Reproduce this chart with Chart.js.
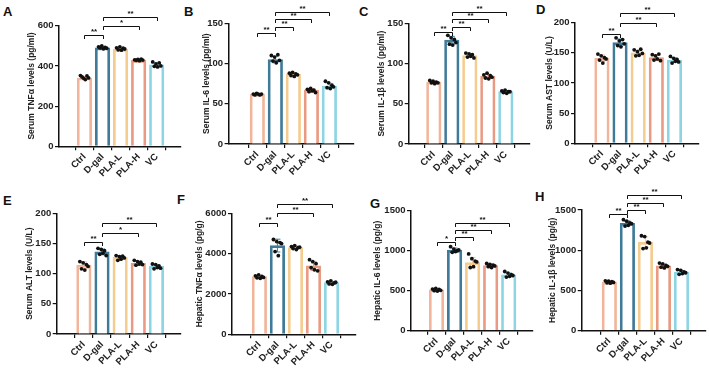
<!DOCTYPE html>
<html>
<head>
<meta charset="utf-8">
<script src="https://cdn.jsdelivr.net/npm/chart.js@4"></script>
<style>
  body { margin: 0; background: #fff; width: 709px; height: 369px; position: relative; overflow: hidden; font-family: "Liberation Sans", Arial, sans-serif; }
  canvas { position: absolute; }
  .tag { position: absolute; font-weight: bold; font-size: 13px; color: #111; }
</style>
</head>
<body>
<div class="tag" style="left:3px;top:4px">A</div>
<div class="tag" style="left:184px;top:4px">B</div>
<div class="tag" style="left:359px;top:4px">C</div>
<div class="tag" style="left:536px;top:2px">D</div>
<div class="tag" style="left:3px;top:193px">E</div>
<div class="tag" style="left:177px;top:192px">F</div>
<div class="tag" style="left:370px;top:196px">G</div>
<div class="tag" style="left:535px;top:189px">H</div>

<script>
const groups = ["Ctrl", "D-gal", "PLA-L", "PLA-H", "VC"];
const colors = ["#F2B59B", "#3F7A99", "#F5CC8F", "#EA9A82", "#8DD5E3"];

// A - serum TNFa (pg/ml)
const meanA = [340, 490, 482, 428, 405];
const dotsA = [[352, 345, 338, 332, 350, 340], [495, 490, 500, 485, 492, 488], [490, 480, 495, 478, 488, 484], [430, 428, 432, 426, 434, 429], [420, 398, 410, 395, 415, 400]];
const sigA = [[0, 1, 553, "**"], [1, 3, 600, "*"], [1, 4, 645, "**"]];
const yTicksA = [0, 200, 400, 600];

// B - serum IL-6 (pg/ml)
const meanB = [62, 105, 87, 67, 72];
const dotsB = [[62, 61, 63, 62, 61, 62], [110, 103, 108, 101, 111, 104], [88, 85, 89, 84, 87, 86], [68, 65, 69, 66, 67, 64], [78, 70, 76, 69, 73, 71]];
const sigB = [[0, 1, 137.6, "**"], [1, 2, 146, "**"], [1, 3, 155, "**"], [1, 4, 164.5, "**"]];
const yTicksB = [0, 50, 100, 150];

// C - serum IL-1b (pg/ml)
const meanC = [77, 129, 110, 84, 65];
const dotsC = [[79, 76, 78, 75, 77, 76], [135, 124, 132, 123, 130, 126], [113, 108, 112, 109, 111, 107], [86, 82, 88, 81, 85, 83], [66, 64, 67, 63, 65, 65]];
const sigC = [[0, 1, 139.6, "**"], [1, 2, 146, "**"], [1, 3, 155, "**"], [1, 4, 164.5, "**"]];
const yTicksC = [0, 50, 100, 150];

// D - serum AST (U/L)
const meanD = [141, 167, 150, 142, 138];
const dotsD = [[148, 138, 145, 133, 142, 140], [175, 162, 170, 160, 172, 165], [155, 145, 152, 146, 156, 149], [147, 138, 145, 140, 148, 137], [144, 133, 141, 136, 139, 135]];
const sigD = [[0, 1, 182, "**"], [1, 3, 199, "**"], [1, 4, 215.5, "**"]];
const yTicksD = [0, 50, 100, 150, 200];

// E - serum ALT (U/L)
const meanE = [114, 136, 127, 117, 112];
const dotsE = [[120, 108, 118, 106, 115, 112], [142, 132, 140, 134, 138, 130], [130, 122, 128, 124, 129, 126], [122, 114, 120, 116, 119, 115], [116, 108, 115, 110, 113, 109]];
const sigE = [[0, 1, 153, "**"], [1, 3, 168, "*"], [1, 4, 184.5, "**"]];
const yTicksE = [0, 50, 100, 150, 200];

// F - hepatic TNFa (pg/g)
const meanF = [2860, 4400, 4300, 3390, 2560];
const dotsF = [[2900, 2800, 2950, 2780, 2870, 2820], [4700, 4100, 4600, 3900, 4550, 4500], [4350, 4250, 4400, 4200, 4300, 4320], [3700, 3300, 3600, 3200, 3500, 3150], [2600, 2500, 2650, 2480, 2550, 2580]];
const sigF = [[0, 1, 5504, "**"], [1, 3, 6000, "**"], [1, 4, 6463, "**"]];
const yTicksF = [0, 2000, 4000, 6000];

// G - hepatic IL-6 (pg/g)
const meanG = [512, 1008, 850, 815, 698];
const dotsG = [[520, 500, 530, 495, 515, 505], [1050, 980, 1020, 990, 1000, 1010], [960, 790, 900, 800, 870, 860], [840, 800, 830, 790, 820, 810], [740, 670, 720, 680, 700, 690]];
const sigG = [[0, 1, 1104, "*"], [1, 2, 1167, "**"], [1, 3, 1258, "**"], [1, 4, 1350, "**"]];
const yTicksG = [0, 500, 1000, 1500];

// H - hepatic IL-1b (pg/g)
const meanH = [605, 1334, 1098, 805, 727];
const dotsH = [[620, 595, 615, 590, 610, 600], [1380, 1300, 1360, 1310, 1340, 1330], [1180, 1020, 1170, 1030, 1100, 1090], [840, 790, 830, 780, 810, 800], [760, 700, 750, 710, 730, 720]];
const sigH = [[0, 1, 1446, "**"], [1, 2, 1500, "**"], [1, 3, 1583, "**"], [1, 4, 1686, "**"]];
const yTicksH = [0, 500, 1000, 1500];

const panels = [
  { title: "Serum TNFα levels (pg/ml)", mean: meanA, dots: dotsA, sig: sigA, yTicks: yTicksA, pos: { axis: 58.5, first: 75, top: 25.7, zero: 146.3, titleOff: 27, row: 0 } },
  { title: "Serum IL-6 levels (pg/ml)", mean: meanB, dots: dotsB, sig: sigB, yTicks: yTicksB, pos: { axis: 228.3, first: 248.5, top: 23.3, zero: 144, titleOff: 21.6, row: 0 } },
  { title: "Serum IL-1β levels (pg/ml)", mean: meanC, dots: dotsC, sig: sigC, yTicks: yTicksC, pos: { axis: 408.3, first: 424.5, top: 23.3, zero: 144, titleOff: 26.7, row: 0 } },
  { title: "Serum AST levels (U/L)", mean: meanD, dots: dotsD, sig: sigD, yTicks: yTicksD, pos: { axis: 575, first: 593, top: 22.7, zero: 143.3, titleOff: 25, row: 0 } },
  { title: "Serum ALT levels (U/L)", mean: meanE, dots: dotsE, sig: sigE, yTicks: yTicksE, pos: { axis: 56.7, first: 75, top: 213.3, zero: 334, titleOff: 26.7, row: 1 } },
  { title: "Hepatic TNFα levels (pg/g)", mean: meanF, dots: dotsF, sig: sigF, yTicks: yTicksF, pos: { axis: 232.3, first: 251, top: 213.3, zero: 334.3, titleOff: 32, row: 1 } },
  { title: "Hepatic IL-6 levels (pg/g)", mean: meanG, dots: dotsG, sig: sigG, yTicks: yTicksG, pos: { axis: 410.7, first: 427.3, top: 210.7, zero: 330.7, titleOff: 33, row: 1 } },
  { title: "Hepatic IL-1β levels (pg/g)", mean: meanH, dots: dotsH, sig: sigH, yTicks: yTicksH, pos: { axis: 582, first: 601, top: 210, zero: 330.7, titleOff: 28.7, row: 1 } }
];

const STEP = 22.5;          // px between group centres
const JIT = [-0.22, -0.13, -0.04, 0.05, 0.14, 0.23];  // horizontal spread of dots
const FONT = "'Liberation Sans', Arial, sans-serif";

// error bars (after bars) and significance brackets (on top)
const extras = {
  id: "extras",
  afterDatasetDraw(chart, args, opts) {
    if (args.meta.type !== "bar") return;
    const p = opts.panel, ctx = chart.ctx, x = chart.scales.x, y = chart.scales.y;
    ctx.save();
    ctx.lineWidth = 1;
    p.dots.forEach((d, i) => {
      const m = d.reduce((a, b) => a + b, 0) / d.length;
      const sd = Math.sqrt(d.reduce((a, b) => a + (b - m) * (b - m), 0) / (d.length - 1));
      const cx = x.getPixelForValue(i);
      const y1 = y.getPixelForValue(p.mean[i] + sd), y2 = y.getPixelForValue(p.mean[i] - sd);
      ctx.strokeStyle = colors[i];
      ctx.beginPath();
      ctx.moveTo(cx, y1); ctx.lineTo(cx, y2);
      ctx.moveTo(cx - 3, y1); ctx.lineTo(cx + 3, y1);
      ctx.moveTo(cx - 3, y2); ctx.lineTo(cx + 3, y2);
      ctx.stroke();
    });
    ctx.restore();
  },
  afterDraw(chart, args, opts) {
    const p = opts.panel, ctx = chart.ctx, x = chart.scales.x, y = chart.scales.y;
    ctx.save();
    ctx.strokeStyle = "#111";
    ctx.fillStyle = "#111";
    ctx.lineWidth = 1;
    ctx.font = "bold 8px " + FONT;
    ctx.textAlign = "center";
    ctx.textBaseline = "alphabetic";
    p.sig.forEach(([a, b, v, s]) => {
      const xa = Math.round(x.getPixelForValue(a)) + 0.5, xb = Math.round(x.getPixelForValue(b)) + 0.5;
      const yy = Math.round(y.getPixelForValue(v)) + 0.5;
      ctx.beginPath();
      ctx.moveTo(xa, yy + 3.5); ctx.lineTo(xa, yy); ctx.lineTo(xb, yy); ctx.lineTo(xb, yy + 3.5);
      ctx.stroke();
      ctx.fillText(s, (xa + xb) / 2, yy - 1.5);
    });
    ctx.restore();
  }
};

panels.forEach(p => {
  const L = p.pos;
  const W = L.titleOff + 5;                   // y-axis box width
  const xmin = -(L.first - L.axis) / STEP;
  const xmax = 4.67;
  const areaW = (xmax - xmin) * STEP;
  const cTop = L.row === 0 ? 0 : 185;
  const cH = L.row === 0 ? 185 : 184;
  const XH = cTop + cH - L.zero;              // x-axis box height
  const cv = document.createElement("canvas");
  cv.width = Math.ceil(W + areaW + 4);
  cv.height = cH;
  cv.style.left = (L.axis - W) + "px";
  cv.style.top = cTop + "px";
  document.body.appendChild(cv);

  const bars = groups.map((g, i) => ({ x: i, y: p.mean[i] }));
  const pts = [];
  p.dots.forEach((d, i) => d.forEach((v, j) => pts.push({ x: i + JIT[j % JIT.length], y: v })));
  const yMax = p.yTicks[p.yTicks.length - 1];

  new Chart(cv, {
    type: "bar",
    data: {
      datasets: [
        { type: "scatter", data: pts, order: 0, pointRadius: 1.9, pointBackgroundColor: "#111", pointBorderWidth: 0 },
        { type: "bar", data: bars, order: 1, backgroundColor: "#fff", borderColor: colors, borderWidth: 2.7, barThickness: 14.5 }
      ]
    },
    options: {
      responsive: false,
      animation: false,
      events: [],
      layout: { padding: { top: L.top - cTop, right: 4, left: 0, bottom: 0 } },
      plugins: { legend: { display: false }, tooltip: { enabled: false }, extras: { panel: p } },
      scales: {
        x: {
          type: "linear", min: xmin, max: xmax,
          afterBuildTicks: s => { s.ticks = groups.map((g, i) => ({ value: i })); },
          afterFit: s => { s.height = XH; },
          grid: { drawOnChartArea: false, drawTicks: true, tickLength: 4, color: "#111", lineWidth: 1.2 },
          border: { color: "#111", width: 1.5 },
          ticks: { callback: v => groups[v], minRotation: 45, maxRotation: 45, padding: 1, color: "#222", font: { family: FONT, size: 9.5, weight: "bold" } }
        },
        y: {
          min: 0, max: yMax,
          afterBuildTicks: s => { s.ticks = p.yTicks.map(v => ({ value: v })); },
          afterFit: s => { s.width = W; },
          grid: { drawOnChartArea: false, drawTicks: true, tickLength: 4, color: "#111", lineWidth: 1.2 },
          border: { color: "#111", width: 1.5 },
          ticks: { callback: v => String(v), padding: 1.5, color: "#222", font: { family: FONT, size: 9.5, weight: "bold" } },
          title: { display: true, text: p.title, color: "#222", padding: 0, font: { family: FONT, size: 8.5, weight: "bold" } }
        }
      }
    },
    plugins: [extras]
  });
});
</script>
</body>
</html>
